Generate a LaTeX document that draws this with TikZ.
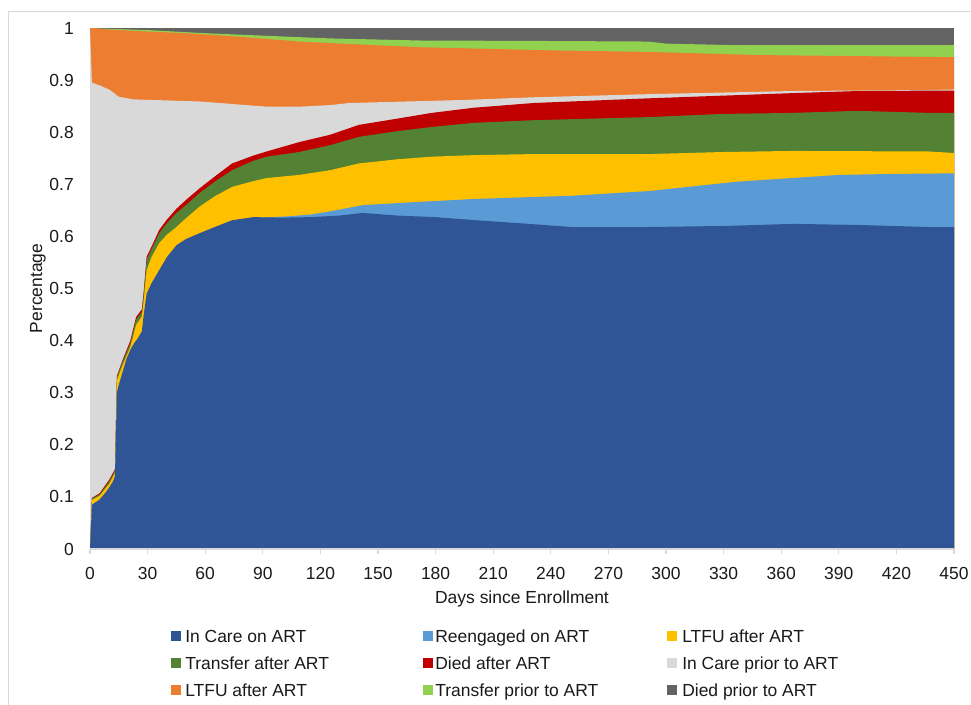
\documentclass[tikz,border=0pt]{standalone}
\usepackage{fontspec}
\setmainfont{Liberation Sans}
\definecolor{cBlue}{HTML}{2F5597}
\definecolor{cLBlue}{HTML}{5B9BD5}
\definecolor{cYellow}{HTML}{FFC000}
\definecolor{cGreen}{HTML}{548235}
\definecolor{cRed}{HTML}{C00000}
\definecolor{cLGray}{HTML}{D9D9D9}
\definecolor{cOrange}{HTML}{ED7D31}
\definecolor{cLGreen}{HTML}{92D050}
\definecolor{cDGray}{HTML}{636363}
\definecolor{cAxis}{HTML}{D9D9D9}
\definecolor{cText}{HTML}{1A1A1A}
\tikzset{
  ticklab/.style={text=cText, inner sep=0pt},
  legsq/.style={inner sep=0pt, minimum size=7.5pt},
  leglab/.style={text=cText, inner sep=0pt, anchor=base west},
}
\begin{document}
\begin{tikzpicture}[x=0.75pt,y=-0.75pt,font=\fontsize{13.1}{15}\selectfont]
\useasboundingbox (0,0) rectangle (971,705);
\fill[white] (0,0) rectangle (971,705);
\draw[cAxis, line width=0.9pt] (8.5,705) -- (8.5,11.5) -- (971,11.5);

\begin{scope}[shift={(90,549)},x=1.44pt,y=390.75pt]
% Died prior to ART (background)
\fill[cDGray] (0,0) rectangle (450,1);
% Transfer prior to ART
\fill[cLGreen] (0,0) -- plot coordinates {(0,1) (5,0.999) (30,0.996) (60,0.99) (92,0.985) (125,0.98) (172,0.976) (241,0.975) (291,0.974) (300,0.97) (337,0.967) (450,0.967)} -- (450,0) -- cycle;
% LTFU prior (orange)
\fill[cOrange] (0,0) -- plot coordinates {(0,1) (10,0.997) (25,0.994) (50,0.99) (75,0.984) (92,0.979) (109,0.974) (125,0.971) (172,0.963) (241,0.957) (291,0.954) (349,0.948) (450,0.944)} -- (450,0) -- cycle;
% In care prior to ART (light gray)
\fill[cLGray] (0,0) -- plot coordinates {(0,1) (1,0.895) (5,0.89) (10.4,0.881) (15,0.868) (22.6,0.863) (57,0.859) (92,0.849) (109,0.849) (125,0.852) (135,0.856) (196,0.862) (231,0.867) (291,0.873) (366,0.879) (437,0.881) (450,0.882)} -- (450,0) -- cycle;
% Died after ART (red)
\fill[cRed] (0,0) -- plot coordinates {(0,0) (1,0.098) (5,0.107) (10,0.133) (13,0.153) (14,0.332) (17,0.363) (21,0.4) (24,0.445) (27,0.46) (28,0.495) (29.5,0.561) (32,0.58) (36,0.612) (40,0.632) (45,0.653) (50,0.67) (57,0.692) (65,0.715) (74,0.74) (85,0.755) (92,0.763) (109,0.781) (125,0.795) (140,0.814) (160,0.826) (178,0.837) (200,0.847) (231,0.856) (291,0.865) (366,0.875) (400,0.879) (450,0.88)} -- (450,0) -- cycle;
% Transfer after ART (green)
\fill[cGreen] (0,0) -- plot coordinates {(0,0) (1,0.097) (5,0.105) (10,0.13) (13,0.15) (14,0.33) (17,0.36) (21,0.395) (24,0.44) (27,0.455) (28,0.49) (29.5,0.555) (32,0.575) (36,0.606) (40,0.625) (45,0.645) (50,0.66) (57,0.683) (65,0.705) (74,0.727) (85,0.745) (92,0.753) (109,0.762) (125,0.775) (140,0.791) (160,0.802) (178,0.81) (200,0.818) (231,0.823) (291,0.829) (329,0.835) (366,0.837) (400,0.841) (437,0.837) (450,0.837)} -- (450,0) -- cycle;
% LTFU after ART (yellow)
\fill[cYellow] (0,0) -- plot coordinates {(0,0) (1,0.094) (5,0.102) (10,0.125) (13,0.146) (14,0.324) (17,0.353) (21,0.388) (24,0.43) (27,0.446) (28,0.478) (29.5,0.535) (32,0.56) (36,0.587) (40,0.603) (45,0.618) (50,0.635) (57,0.657) (65,0.677) (74,0.695) (85,0.706) (92,0.712) (109,0.718) (125,0.727) (140,0.74) (160,0.748) (178,0.753) (200,0.756) (231,0.758) (291,0.758) (330,0.762) (366,0.764) (437,0.763) (450,0.76)} -- (450,0) -- cycle;
% Reengaged on ART (light blue)
\fill[cLBlue] (90,0) -- plot coordinates {(90,0.636) (95,0.637) (105,0.639) (115,0.642) (125,0.648) (142,0.66) (170,0.666) (201,0.672) (251,0.678) (291,0.687) (337,0.705) (390,0.718) (420,0.72) (450,0.721)} -- (450,0) -- cycle;
% In care on ART (blue)
\fill[cBlue] (0,0) -- plot coordinates {(0,0) (1,0.085) (3,0.09) (5,0.095) (8,0.108) (10,0.118) (12,0.13) (13,0.14) (14,0.30) (15,0.315) (17,0.34) (19,0.365) (21,0.382) (23,0.395) (25,0.405) (27,0.418) (28,0.45) (29.5,0.49) (32,0.51) (36,0.535) (40,0.56) (45,0.583) (50,0.595) (57,0.606) (65,0.618) (74,0.631) (85,0.637) (100,0.636) (115,0.637) (130,0.64) (142,0.645) (160,0.64) (180,0.637) (201,0.631) (225,0.625) (251,0.618) (290,0.618) (330,0.62) (366,0.624) (400,0.622) (437,0.618) (450,0.618)} -- (450,0) -- cycle;
% axis
\draw[cAxis, line width=0.9pt] (0,0) -- (450,0);
\foreach \d in {0,30,...,450} \draw[cAxis, line width=0.9pt] (\d,0) -- (\d,-0.0096);
\end{scope}

% y tick labels
\foreach \v/\t [count=\i] in {0/0,0.1/0.1,0.2/0.2,0.3/0.3,0.4/0.4,0.5/0.5,0.6/0.6,0.7/0.7,0.8/0.8,0.9/0.9,1/1}
  \node[ticklab, anchor=east] (yl\i) at (74,{549-521*\v}) {\t};
% x tick labels
\foreach \d [count=\i] in {0,30,...,450}
  \node[ticklab] (xl\i) at ({90+1.92*\d},573) {\d};

\node[ticklab, anchor=base] (xtitle) at (522,603.3) {Days since Enrollment};
\node[ticklab, anchor=base, rotate=90] (ytitle) at (42,288.5) {Percentage};

% legend
\node[legsq, fill=cBlue]   (sq1) at (175.7,636) {};
\node[leglab] (lg1) at (185,642) {In Care on ART};
\node[legsq, fill=cLBlue]  (sq2) at (428,636) {};
\node[leglab] (lg2) at (435,642) {Reengaged on ART};
\node[legsq, fill=cYellow] (sq3) at (671.7,636) {};
\node[leglab] (lg3) at (682,642) {LTFU after ART};
\node[legsq, fill=cGreen]  (sq4) at (175.7,663) {};
\node[leglab] (lg4) at (185,669) {Transfer after ART};
\node[legsq, fill=cRed]    (sq5) at (428,663) {};
\node[leglab] (lg5) at (435,669) {Died after ART};
\node[legsq, fill=cLGray]  (sq6) at (671.7,663) {};
\node[leglab] (lg6) at (682,669) {In Care prior to ART};
\node[legsq, fill=cOrange] (sq7) at (175.7,690) {};
\node[leglab] (lg7) at (185,696) {LTFU after ART};
\node[legsq, fill=cLGreen] (sq8) at (428,690) {};
\node[leglab] (lg8) at (435,696) {Transfer prior to ART};
\node[legsq, fill=cDGray]  (sq9) at (671.7,690) {};
\node[leglab] (lg9) at (682,696) {Died prior to ART};
\end{tikzpicture}
\end{document}
